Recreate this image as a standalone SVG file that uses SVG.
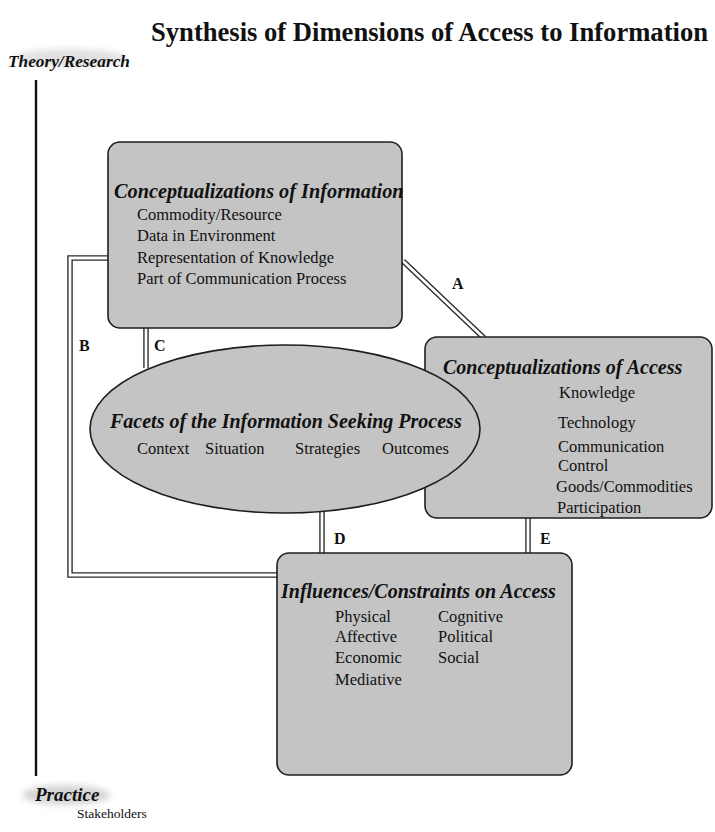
<svg xmlns="http://www.w3.org/2000/svg" width="715" height="832" viewBox="0 0 715 832">
<style>
.box{fill:#c4c4c4;stroke:#1e1e1e;stroke-width:1.6}
.hd{font-family:"Liberation Serif",serif;font-weight:bold;font-style:italic;font-size:20px;fill:#111}
.it{font-family:"Liberation Serif",serif;font-size:16.5px;fill:#111}
.lbl{font-family:"Liberation Serif",serif;font-weight:bold;font-size:16px;fill:#111}
.dl-o{fill:none;stroke:#2a2a2a;stroke-width:5.5;stroke-linejoin:miter}
.dl-i{fill:none;stroke:#fff;stroke-width:2.8;stroke-linejoin:miter}
</style>
<defs>
<filter id="blur" x="-30%" y="-60%" width="160%" height="220%"><feGaussianBlur stdDeviation="3"/></filter>
</defs>
<rect width="715" height="832" fill="#fff"/>
<text x="151" y="41" font-family="Liberation Serif,serif" font-weight="bold" font-size="26.6" fill="#111">Synthesis of Dimensions of Access to Information</text>
<g id="theory">
<ellipse cx="70" cy="58" rx="55" ry="9" fill="#bbb" opacity="0.45" filter="url(#blur)"/>
<text x="8" y="67" class="hd" style="font-size:17.3px">Theory/Research</text>
<line x1="36" y1="80" x2="36" y2="776" stroke="#111" stroke-width="2.4"/>
</g>
<g id="connectors">
<path class="dl-o" d="M108,258 H70 V575 H278"/>
<path class="dl-i" d="M108,258 H70 V575 H278"/>
<path class="dl-o" d="M146,327 V368"/>
<path class="dl-i" d="M146,327 V368"/>
<path class="dl-o" d="M403,261 L484,338"/>
<path class="dl-i" d="M403,261 L484,338"/>
<path class="dl-o" d="M322,508 V554"/>
<path class="dl-i" d="M322,508 V554"/>
<path class="dl-o" d="M528,517 V554"/>
<path class="dl-i" d="M528,517 V554"/>
<text x="452" y="289" class="lbl">A</text>
<text x="79" y="351" class="lbl">B</text>
<text x="154" y="351" class="lbl">C</text>
<text x="334" y="544" class="lbl">D</text>
<text x="540" y="544" class="lbl">E</text>
</g>
<g id="info">
<rect class="box" x="108" y="142" width="294" height="186" rx="12"/>
<text x="114" y="198" class="hd" style="font-size:20.3px">Conceptualizations of Information</text>
<text x="137" y="220" class="it">Commodity/Resource</text>
<text x="137" y="241" class="it">Data in Environment</text>
<text x="137" y="263" class="it">Representation of Knowledge</text>
<text x="137" y="284" class="it">Part of Communication Process</text>
</g>
<g id="access">
<rect class="box" x="425" y="337" width="287" height="181" rx="12"/>
<text x="443" y="374" class="hd">Conceptualizations of Access</text>
<text x="559" y="398" class="it">Knowledge</text>
<text x="558" y="428" class="it">Technology</text>
<text x="558" y="452" class="it">Communication</text>
<text x="558" y="471" class="it">Control</text>
<text x="556" y="492" class="it">Goods/Commodities</text>
<text x="557" y="513" class="it">Participation</text>
</g>
<g id="facets">
<ellipse class="box" cx="285" cy="429" rx="195" ry="84"/>
<text x="110" y="428" class="hd">Facets of the Information Seeking Process</text>
<text x="137" y="454" class="it">Context</text>
<text x="205" y="454" class="it">Situation</text>
<text x="295" y="454" class="it">Strategies</text>
<text x="382" y="454" class="it">Outcomes</text>
</g>
<g id="influences">
<rect class="box" x="277" y="553" width="295" height="222" rx="12"/>
<text x="281" y="598" class="hd">Influences/Constraints on Access</text>
<text x="335" y="622" class="it">Physical</text>
<text x="438" y="622" class="it">Cognitive</text>
<text x="335" y="642" class="it">Affective</text>
<text x="438" y="642" class="it">Political</text>
<text x="335" y="663" class="it">Economic</text>
<text x="438" y="663" class="it">Social</text>
<text x="335" y="685" class="it">Mediative</text>
</g>
<g id="practice">
<ellipse cx="66" cy="795" rx="44" ry="10" fill="#aaa" opacity="0.5" filter="url(#blur)"/>
<text x="35" y="801" class="hd" style="font-size:19px">Practice</text>
<text x="77" y="818" class="it" style="font-size:13.5px">Stakeholders</text>
</g>
</svg>
